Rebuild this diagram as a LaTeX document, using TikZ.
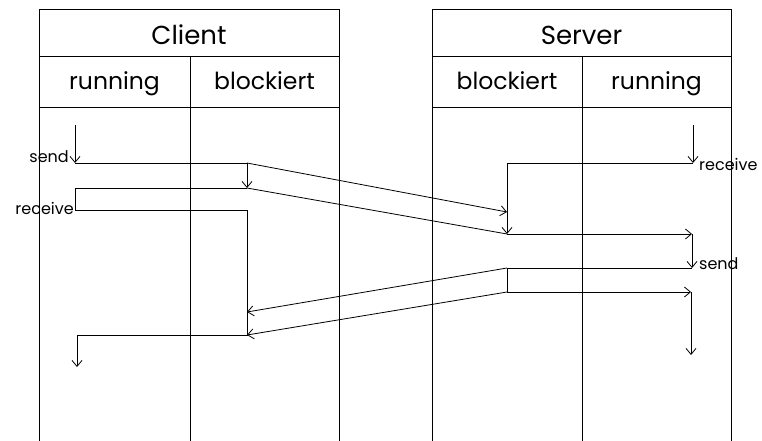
\documentclass[tikz,border=0pt]{standalone}
\usepackage{fontspec}
\setmainfont{Poppins}
\usetikzlibrary{arrows.meta,calc}
\tikzset{
  lane/.style={draw=black, line width=0.8pt},
  head/.style={font=\fontsize{23.5}{25}\selectfont, inner sep=0pt, anchor=base},
  title/.style={head, font=\fontsize{26}{28}\selectfont},
  lbl/.style={font=\fontsize{16}{18}\selectfont, inner sep=0pt},
  flow/.style={draw=black, line width=0.8pt},
  arr/.style={-{Straight Barb[length=6pt,width=10pt,line width=0.8pt]}, line width=0.8pt, draw=black}
}
\begin{document}
\begin{tikzpicture}[x=1pt,y=-1pt]
\useasboundingbox (0,0) rectangle (762,441);
% Client
\draw[lane] (39,441) -- (39,9) -- (339,9) -- (339,441);
\draw[lane] (39,56) -- (339,56);
\draw[lane] (39,107) -- (339,107);
\draw[lane] (190,56) -- (190,441);
\node[title] (client) at (189,45) {Client};
\node[head] (crun) at (114.5,90) {running};
\node[head] (cblk) at (264.5,90) {blockiert};
% Server
\draw[lane] (432,441) -- (432,9) -- (731,9) -- (731,441);
\draw[lane] (432,56) -- (731,56);
\draw[lane] (432,107) -- (731,107);
\draw[lane] (582,56) -- (582,441);
\node[title] (server) at (581.5,45) {Server};
\node[head] (sblk) at (507,90) {blockiert};
\node[head] (srun) at (656.5,90) {running};
% points
\coordinate (c0) at (75,125);
\coordinate (csend) at (75,163);
\coordinate (cb1) at (247,163);
\coordinate (cb2) at (247,188);
\coordinate (cr1) at (75,188);
\coordinate (cr2) at (75,210);
\coordinate (cb3) at (247,210);
\coordinate (cin1) at (247,312);
\coordinate (cin2) at (247,335);
\coordinate (cc) at (77,335);
\coordinate (cend) at (77,367);
\coordinate (s0) at (693,125);
\coordinate (srecv) at (693,163);
\coordinate (sb1) at (507,163);
\coordinate (sin1) at (507,212);
\coordinate (sin2) at (507,234);
\coordinate (sr1) at (692,234);
\coordinate (ssend) at (692,268);
\coordinate (sb2) at (507,268);
\coordinate (sb3) at (507,292);
\coordinate (sr2) at (691,292);
\coordinate (send) at (691,355);
% client flow
\draw[arr] (c0) -- (csend);
\node[lbl, anchor=base east] (lsend) at ($(csend)+(-6,-1)$) {send};
\draw[flow] (csend) -- (cb1);
\draw[arr] (cb1) -- (cb2);
\draw[flow] (cb2) -- (cr1) -- (cr2) -- (cb3) -- (cin2) -- (cc);
\node[lbl, anchor=base east] (lrecv) at ($(cr2)+(-1,4)$) {receive};
\draw[arr] (cc) -- (cend);
% server flow
\draw[arr] (s0) -- (srecv);
\node[lbl, anchor=base west] (lsrecv) at ($(srecv)+(6,7)$) {receive};
\draw[flow] (srecv) -- (sb1);
\draw[arr] (sb1) -- (sin2);
\draw[arr] (sin2) -- (sr1);
\draw[arr] (sr1) -- (ssend);
\node[lbl, anchor=base west] (lssend) at ($(ssend)+(7,1)$) {send};
\draw[flow] (ssend) -- (sb2) -- (sb3);
\draw[arr] (sb3) -- (sr2);
\draw[arr] (sr2) -- (send);
% messages
\draw[arr] (cb1) -- (sin1);
\draw[flow] (cb2) -- (sin2);
\draw[arr] (sb2) -- (cin1);
\draw[arr] (sb3) -- (cin2);
\end{tikzpicture}
\end{document}
